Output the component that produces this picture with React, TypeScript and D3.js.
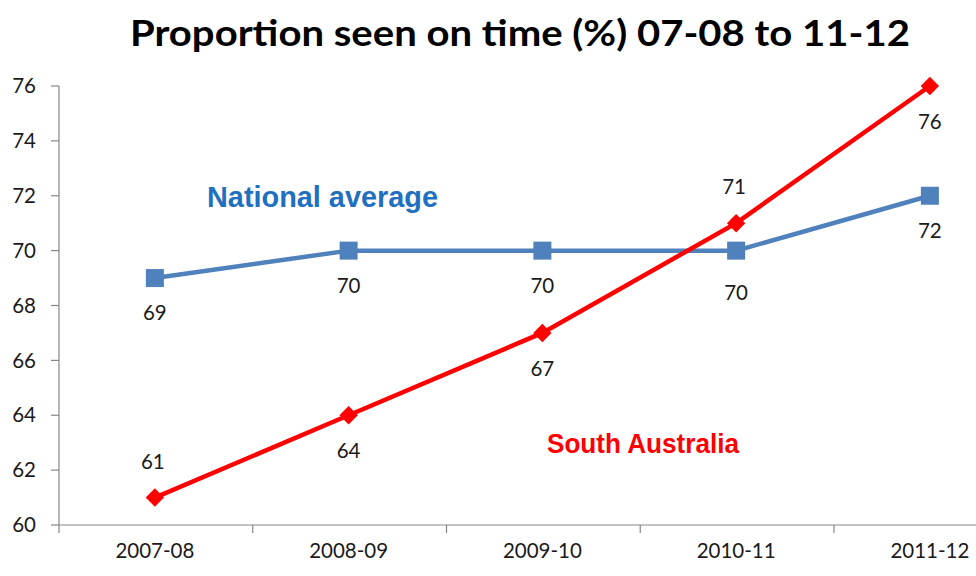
import React from "react";
import * as d3 from "d3";

const categories = ["2007-08", "2008-09", "2009-10", "2010-11", "2011-12"];
const nationalValues = [69, 70, 70, 70, 72];
const saValues = [61, 64, 67, 71, 76];
const yTicks = [60, 62, 64, 66, 68, 70, 72, 74, 76];
// label placement: 1 = below, -1 = above
const nationalLabelPos = [1, 1, 1, 1.2, 1];
const saLabelPos = [-1, 1, 1, -1, 1];

const W = 976;
const H = 576;

export default function App() {
  const x0 = 58;
  const band = 193.75;
  const x = d3
    .scaleBand<string>()
    .domain(categories)
    .range([x0, x0 + band * categories.length])
    .paddingInner(0)
    .paddingOuter(0);
  const cx = (c: string) => (x(c) as number) + x.bandwidth() / 2;
  const y = d3.scaleLinear().domain([60, 76]).range([525, 86]);

  const line = d3
    .line<[number, number]>()
    .x((d) => d[0])
    .y((d) => d[1]);

  const naPts: [number, number][] = categories.map((c, i) => [cx(c), y(nationalValues[i])]);
  const saPts: [number, number][] = categories.map((c, i) => [cx(c), y(saValues[i])]);

  const numFont = "Lato, 'Open Sans', sans-serif";
  const axisColor = "#868686";
  const fs = 20.5;

  return (
    <div style={{ position: "absolute", left: 0, top: 0 }}>
      <svg width={W} height={H} style={{ display: "block", background: "#fff" }}>
        <text
          x={520}
          y={46}
          textAnchor="middle"
          fontFamily={numFont}
          fontWeight="bold"
          fontSize={37}
          fill="#000"
          textLength={780}
          lengthAdjust="spacingAndGlyphs"
        >
          Proportion seen on time (%) 07-08 to 11-12
        </text>

        {/* y axis */}
        <line x1={x0 + 1} x2={x0 + 1} y1={y(76)} y2={y(60)} stroke={axisColor} strokeWidth={1.2} />
        {yTicks.map((t) => (
          <g key={t}>
            <line x1={x0 - 7} x2={x0 + 1} y1={y(t)} y2={y(t)} stroke={axisColor} strokeWidth={1.2} />
            <text
              x={36}
              y={y(t)}
              dy="0.35em"
              textAnchor="end"
              fontFamily={numFont}
              fontSize={fs}
              fill="#1a1a1a"
            >
              {t}
            </text>
          </g>
        ))}

        {/* x axis */}
        <line x1={x0 + 1} x2={W} y1={y(60)} y2={y(60)} stroke={axisColor} strokeWidth={1.2} />
        {categories.map((c) => (
          <g key={c}>
            <line
              x1={(x(c) as number) + 1}
              x2={(x(c) as number) + 1}
              y1={y(60)}
              y2={y(60) + 8}
              stroke={axisColor}
              strokeWidth={1.2}
            />
            <text
              x={cx(c)}
              y={558}
              textAnchor="middle"
              fontFamily={numFont}
              fontSize={fs}
              fill="#1a1a1a"
            >
              {c}
            </text>
          </g>
        ))}

        {/* National average */}
        <path d={line(naPts) || ""} fill="none" stroke="#4F81BD" strokeWidth={4.5} />
        {naPts.map((p, i) => (
          <rect key={i} x={p[0] - 9} y={p[1] - 9} width={18} height={18} fill="#4F81BD" />
        ))}

        {/* South Australia */}
        <path d={line(saPts) || ""} fill="none" stroke="#FF0000" strokeWidth={4.5} />
        {saPts.map((p, i) => (
          <rect
            key={i}
            x={-6.5}
            y={-6.5}
            width={13}
            height={13}
            fill="#FF0000"
            transform={`translate(${p[0]},${p[1]}) rotate(45)`}
          />
        ))}

        {/* data labels */}
        {naPts.map((p, i) => (
          <text
            key={"na" + i}
            x={p[0]}
            y={p[1] + 35 * nationalLabelPos[i]}
            dy="0.35em"
            textAnchor="middle"
            fontFamily={numFont}
            fontSize={fs}
            fill="#1a1a1a"
          >
            {nationalValues[i]}
          </text>
        ))}
        {saPts.map((p, i) => (
          <text
            key={"sa" + i}
            x={p[0] + (saLabelPos[i] < 0 ? -2 : 0)}
            y={p[1] + 36 * saLabelPos[i]}
            dy="0.35em"
            textAnchor="middle"
            fontFamily={numFont}
            fontSize={fs}
            fill="#1a1a1a"
          >
            {saValues[i]}
          </text>
        ))}

        {/* series labels */}
        <text
          x={322.5}
          y={207}
          textAnchor="middle"
          fontFamily="'Liberation Sans', Arial, sans-serif"
          fontWeight="bold"
          fontSize={29}
          fill="#1F70C1"
          textLength={231}
          lengthAdjust="spacingAndGlyphs"
        >
          National average
        </text>
        <text
          x={643}
          y={453}
          textAnchor="middle"
          fontFamily="'Liberation Sans', Arial, sans-serif"
          fontWeight="bold"
          fontSize={28}
          fill="#FF0000"
          textLength={192}
          lengthAdjust="spacingAndGlyphs"
        >
          South Australia
        </text>
      </svg>
    </div>
  );
}
